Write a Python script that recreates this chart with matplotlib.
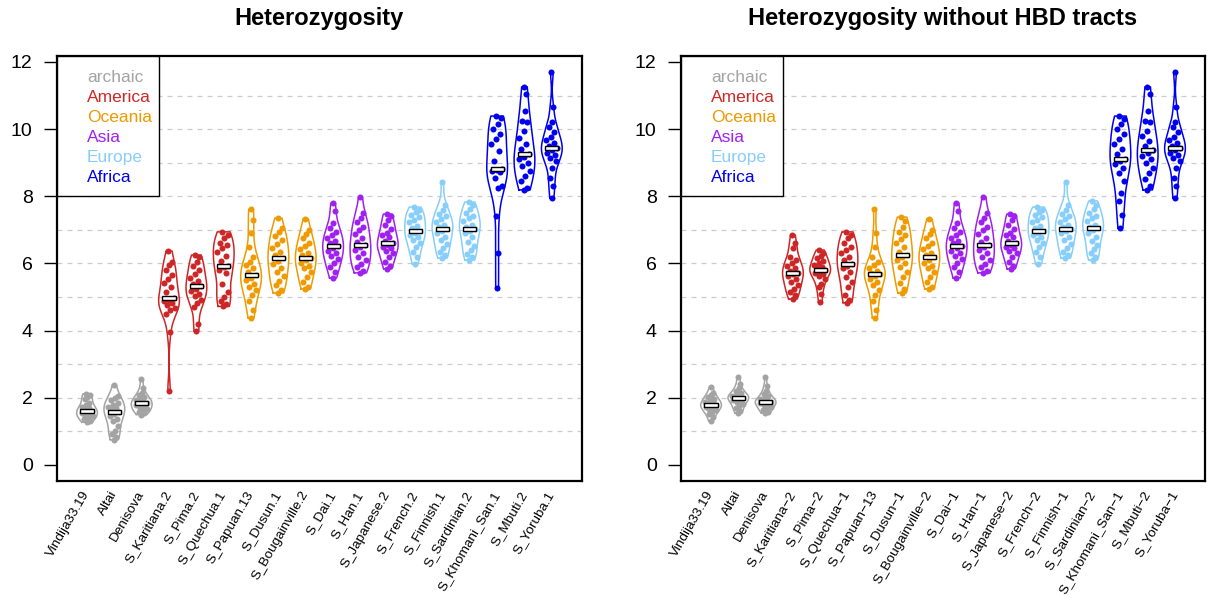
import numpy as np
import matplotlib
matplotlib.use("Agg")
import matplotlib.pyplot as plt
from matplotlib.patches import Rectangle

plt.rcParams["font.family"] = ["Liberation Sans", "DejaVu Sans"]

labels_het = ["Vindija33.19", "Altai", "Denisova", "S_Karitiana.2", "S_Pima.2", "S_Quechua.1",
              "S_Papuan.13", "S_Dusun.1", "S_Bougainville.2", "S_Dai.1", "S_Han.1", "S_Japanese.2",
              "S_French.2", "S_Finnish.1", "S_Sardinian.2", "S_Khomani_San.1", "S_Mbuti.2", "S_Yoruba.1"]
labels_nohbd = ["Vindija33.19", "Altai", "Denisova", "S_Karitiana\u22122", "S_Pima\u22122", "S_Quechua\u22121",
                "S_Papuan\u221213", "S_Dusun\u22121", "S_Bougainville\u22122", "S_Dai\u22121", "S_Han\u22121",
                "S_Japanese\u22122", "S_French\u22122", "S_Finnish\u22121", "S_Sardinian\u22122",
                "S_Khomani_San\u22121", "S_Mbuti\u22122", "S_Yoruba\u22121"]

region_names = ["archaic", "America", "Oceania", "Asia", "Europe", "Africa"]
region_colors = ["#A3A3A3", "#CD2626", "#EE9A00", "#A020F0", "#87CEFA", "#0000EE"]
# region index of each sample, in plotting order
sample_region = [0, 0, 0, 1, 1, 1, 2, 2, 2, 3, 3, 3, 4, 4, 4, 5, 5, 5]

# heterozygosity per sample (per kb), one list per sample
het = [
    [2.12, 2.08, 2.02, 1.95, 1.85, 1.78, 1.72, 1.68, 1.64, 1.61, 1.58, 1.55, 1.52, 1.48, 1.45, 1.40, 1.36, 1.30, 1.27],
    [2.38, 2.05, 1.98, 1.92, 1.85, 1.78, 1.72, 1.68, 1.62, 1.57, 1.52, 1.45, 1.38, 1.30, 1.15, 1.02, 0.92, 0.82, 0.75],
    [2.56, 2.30, 2.15, 2.08, 2.02, 1.97, 1.93, 1.90, 1.87, 1.84, 1.80, 1.77, 1.74, 1.70, 1.66, 1.62, 1.58, 1.53, 1.50],
    [6.37, 6.05, 5.95, 5.80, 5.65, 5.55, 5.42, 5.30, 5.15, 4.97, 4.92, 4.88, 4.82, 4.75, 4.68, 4.60, 4.50, 3.96, 2.20],
    [6.25, 6.18, 6.05, 5.92, 5.80, 5.70, 5.58, 5.48, 5.40, 5.33, 5.25, 5.18, 5.10, 5.02, 4.92, 4.82, 4.70, 4.20, 3.99],
    [6.94, 6.85, 6.75, 6.62, 6.55, 6.45, 6.35, 6.22, 6.08, 5.93, 5.88, 5.80, 5.72, 5.40, 5.15, 5.00, 4.88, 4.78, 4.72],
    [7.62, 7.30, 6.90, 6.48, 6.20, 6.05, 5.95, 5.85, 5.75, 5.66, 5.58, 5.50, 5.40, 5.30, 5.20, 5.05, 4.88, 4.60, 4.38],
    [7.35, 7.05, 6.95, 6.82, 6.70, 6.58, 6.45, 6.35, 6.25, 6.16, 6.08, 5.98, 5.85, 5.75, 5.62, 5.48, 5.35, 5.22, 5.12],
    [7.33, 7.00, 6.88, 6.75, 6.62, 6.52, 6.42, 6.32, 6.25, 6.17, 6.10, 6.02, 5.92, 5.85, 5.75, 5.60, 5.45, 5.30, 5.24],
    [7.80, 7.55, 7.20, 7.05, 6.95, 6.85, 6.75, 6.68, 6.60, 6.52, 6.45, 6.38, 6.30, 6.22, 6.12, 6.00, 5.90, 5.75, 5.57],
    [7.98, 7.50, 7.35, 7.22, 7.10, 7.00, 6.88, 6.75, 6.65, 6.55, 6.48, 6.40, 6.30, 6.20, 6.10, 5.98, 5.88, 5.78, 5.72],
    [7.47, 7.40, 7.30, 7.15, 7.02, 6.92, 6.85, 6.78, 6.68, 6.60, 6.55, 6.50, 6.45, 6.38, 6.30, 6.20, 6.05, 5.92, 5.84],
    [7.68, 7.60, 7.52, 7.45, 7.38, 7.30, 7.22, 7.12, 7.05, 6.97, 6.92, 6.85, 6.78, 6.70, 6.60, 6.48, 6.35, 6.18, 5.99],
    [8.43, 7.75, 7.60, 7.48, 7.40, 7.32, 7.22, 7.15, 7.08, 7.03, 6.98, 6.90, 6.80, 6.70, 6.58, 6.45, 6.35, 6.25, 6.16],
    [7.83, 7.75, 7.62, 7.50, 7.42, 7.35, 7.25, 7.15, 7.08, 7.03, 6.98, 6.90, 6.78, 6.65, 6.52, 6.40, 6.28, 6.18, 6.10],
    [10.39, 10.32, 10.15, 10.00, 9.85, 9.70, 9.55, 9.35, 9.05, 8.81, 8.78, 8.75, 8.72, 8.55, 8.30, 8.25, 7.41, 6.31, 5.27],
    [11.26, 11.05, 10.55, 10.25, 10.20, 9.95, 9.75, 9.55, 9.40, 9.26, 9.18, 9.10, 9.00, 8.90, 8.75, 8.60, 8.45, 8.25, 8.19],
    [11.70, 10.65, 10.20, 10.05, 9.90, 9.78, 9.68, 9.58, 9.50, 9.44, 9.38, 9.30, 9.22, 9.15, 9.05, 8.85, 8.55, 8.30, 7.95],
]

# heterozygosity after removing HBD tracts
het_nohbd = [
    [2.32, 2.15, 2.08, 2.02, 1.96, 1.92, 1.88, 1.85, 1.82, 1.79, 1.76, 1.73, 1.70, 1.66, 1.62, 1.58, 1.52, 1.42, 1.31],
    [2.62, 2.40, 2.28, 2.20, 2.15, 2.10, 2.06, 2.03, 2.01, 2.00, 1.97, 1.93, 1.90, 1.86, 1.80, 1.74, 1.68, 1.60, 1.55],
    [2.62, 2.35, 2.20, 2.12, 2.05, 2.00, 1.96, 1.93, 1.90, 1.88, 1.86, 1.83, 1.80, 1.77, 1.73, 1.68, 1.63, 1.58, 1.55],
    [6.85, 6.60, 6.45, 6.20, 6.10, 6.00, 5.92, 5.85, 5.78, 5.72, 5.68, 5.62, 5.55, 5.45, 5.35, 5.25, 5.15, 5.05, 4.94],
    [6.40, 6.30, 6.22, 6.15, 6.08, 6.00, 5.95, 5.90, 5.85, 5.80, 5.76, 5.72, 5.68, 5.62, 5.55, 5.40, 5.30, 5.10, 4.85],
    [6.94, 6.85, 6.75, 6.60, 6.50, 6.40, 6.30, 6.20, 6.10, 5.99, 5.92, 5.85, 5.75, 5.60, 5.45, 5.30, 5.05, 4.90, 4.83],
    [7.62, 6.90, 6.48, 6.20, 6.05, 5.95, 5.85, 5.78, 5.72, 5.69, 5.62, 5.55, 5.45, 5.35, 5.22, 5.05, 4.88, 4.60, 4.38],
    [7.38, 7.25, 7.10, 6.95, 6.85, 6.72, 6.60, 6.48, 6.35, 6.25, 6.18, 6.10, 6.00, 5.90, 5.75, 5.60, 5.42, 5.25, 5.12],
    [7.33, 7.00, 6.88, 6.75, 6.62, 6.52, 6.42, 6.32, 6.25, 6.19, 6.10, 6.02, 5.92, 5.85, 5.75, 5.60, 5.45, 5.30, 5.24],
    [7.80, 7.55, 7.20, 7.05, 6.95, 6.85, 6.75, 6.68, 6.60, 6.52, 6.45, 6.38, 6.30, 6.22, 6.12, 6.00, 5.90, 5.75, 5.57],
    [7.98, 7.50, 7.35, 7.22, 7.10, 7.00, 6.88, 6.75, 6.65, 6.55, 6.48, 6.40, 6.30, 6.20, 6.10, 5.98, 5.88, 5.78, 5.72],
    [7.47, 7.40, 7.30, 7.15, 7.02, 6.92, 6.85, 6.78, 6.68, 6.61, 6.55, 6.50, 6.45, 6.38, 6.30, 6.20, 6.05, 5.92, 5.84],
    [7.68, 7.60, 7.52, 7.45, 7.38, 7.30, 7.22, 7.12, 7.05, 6.97, 6.92, 6.85, 6.78, 6.70, 6.60, 6.48, 6.35, 6.18, 5.99],
    [8.43, 7.75, 7.60, 7.48, 7.40, 7.32, 7.22, 7.15, 7.08, 7.03, 6.98, 6.90, 6.80, 6.70, 6.58, 6.45, 6.35, 6.25, 6.16],
    [7.86, 7.75, 7.62, 7.50, 7.42, 7.35, 7.25, 7.15, 7.10, 7.06, 7.00, 6.92, 6.80, 6.68, 6.55, 6.42, 6.30, 6.18, 6.10],
    [10.39, 10.30, 10.15, 10.00, 9.85, 9.70, 9.55, 9.40, 9.25, 9.11, 9.05, 8.95, 8.85, 8.70, 8.45, 8.10, 7.85, 7.45, 7.06],
    [11.26, 11.05, 10.55, 10.25, 10.20, 9.95, 9.80, 9.65, 9.50, 9.38, 9.30, 9.20, 9.10, 9.00, 8.85, 8.70, 8.50, 8.30, 8.19],
    [11.70, 10.65, 10.20, 10.05, 9.90, 9.78, 9.68, 9.58, 9.50, 9.44, 9.38, 9.30, 9.22, 9.15, 9.05, 8.85, 8.55, 8.30, 7.95],
]


def density(values, grid):
    # gaussian kde with R's bw.nrd0 bandwidth
    n = len(values)
    sd = values.std(ddof=1)
    iqr = np.subtract(*np.percentile(values, [75, 25]))
    bw = 0.9 * min(sd, iqr / 1.34) * n ** -0.2
    z = (grid[:, None] - values[None, :]) / bw
    return np.exp(-0.5 * z ** 2).sum(axis=1)


def draw_violin(ax, pos, values, color, half_width=0.38):
    values = np.asarray(values)
    grid = np.linspace(values.min(), values.max(), 300)
    d = density(values, grid)
    hw = d / d.max() * half_width
    xs = np.concatenate([pos - hw, (pos + hw)[::-1], [pos - hw[0]]])
    ys = np.concatenate([grid, grid[::-1], [grid[0]]])
    ax.plot(xs, ys, color=color, lw=1.1, zorder=2)

    # spread the points sideways inside the violin
    idx = np.arange(len(values))
    spread = (np.mod(idx * 0.618034 + 0.31, 1.0) - 0.5) * 1.3
    local = np.interp(values, grid, hw)
    ax.scatter(pos + spread * local, values, s=19, color=color, linewidths=0, zorder=3)

    med = np.median(values)
    ax.add_patch(Rectangle((pos - 0.24, med - 0.065), 0.48, 0.13, facecolor="white",
                           edgecolor="black", lw=1.0, zorder=4))


def draw_panel(ax, groups, labels, title):
    positions = np.arange(1, len(groups) + 1)
    for y in range(1, 12):
        ax.axhline(y, color="#CCCCCC", lw=0.9, ls=(0, (4, 4)), zorder=0)
    for pos, values, r in zip(positions, groups, sample_region):
        draw_violin(ax, pos, values, region_colors[r])

    ax.set_xlim(-0.1, 19.1)
    ax.set_ylim(-0.48, 12.18)
    ax.set_yticks(range(0, 13, 2))
    ax.tick_params(axis="y", labelsize=14, length=9.5, width=1, pad=8)
    ax.set_xticks(positions)
    ax.set_xticklabels(labels, rotation=60, ha="right", va="center",
                       rotation_mode="anchor", fontsize=9.7)
    ax.tick_params(axis="x", length=0, pad=8)
    for sp in ax.spines.values():
        sp.set_linewidth(1.6)

    # region legend in the top-left corner
    ax.add_patch(Rectangle((0, 1 - 0.329), 0.194, 0.329, transform=ax.transAxes,
                           facecolor="white", edgecolor="black", lw=1.0, zorder=5))
    for k, (name, col) in enumerate(zip(region_names, region_colors)):
        ax.text(0.057, 1 - 0.05 - k * 0.0472, name, color=col, fontsize=12.5,
                ha="left", va="center", transform=ax.transAxes, zorder=6)

    # title centred over the panel
    bb = ax.get_position()
    ax.figure.text((bb.x0 + bb.x1) / 2, 1 - 19 / 601, title, fontsize=17,
                   fontweight="bold", ha="center", va="center")


fig = plt.figure(figsize=(12.09, 6.01), dpi=100)
ax1 = fig.add_axes([0.0471, 0.1997, 0.4342, 0.7072])
ax2 = fig.add_axes([0.5633, 0.1997, 0.4334, 0.7072])

draw_panel(ax1, het, labels_het, "Heterozygosity")
draw_panel(ax2, het_nohbd, labels_nohbd, "Heterozygosity without HBD tracts")

fig.savefig("out.png", dpi=100)
